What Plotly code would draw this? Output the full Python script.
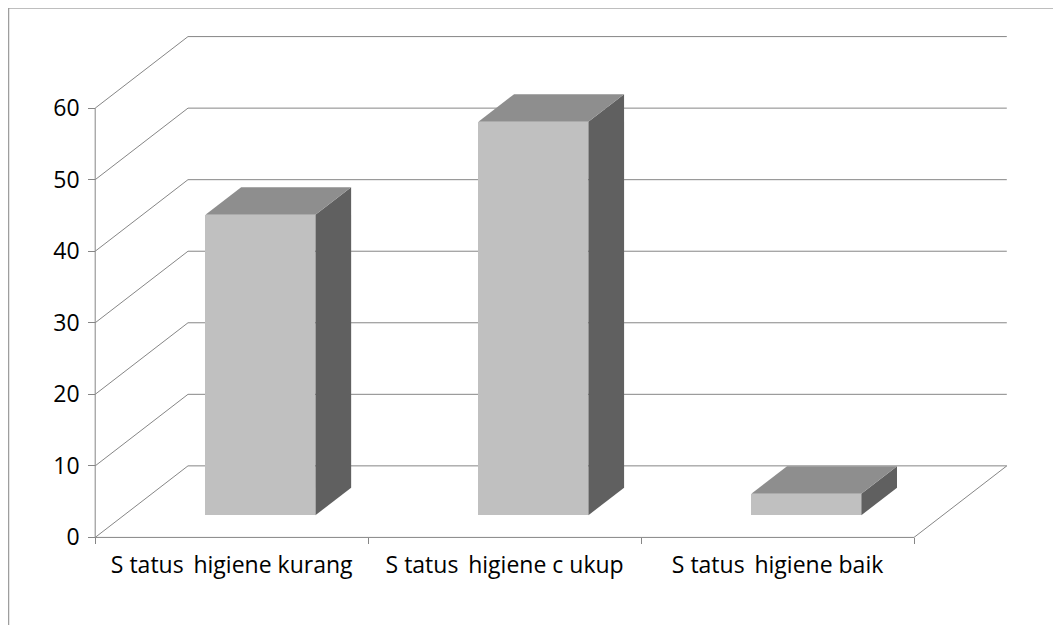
import plotly.graph_objects as go

# ---- data ----
categories = ["S tatus \u2009higiene kurang", "S tatus \u2009higiene c ukup", "S tatus \u2009higiene baik"]
values = [42, 55, 3]
y_ticks = [0, 10, 20, 30, 40, 50, 60]

# ---- 3D projection parameters (axis units) ----
OX = 0.34      # depth offset in x (category units)
OY = 10.0      # depth offset in y (value units)
D1 = 0.31      # bar front depth fraction
D2 = 0.695     # bar back depth fraction
BW = 0.403     # bar width (category units)

# pixel geometry (page body has an 8px margin)
OFF = 8
PXX = 273.0
PXY = 7.143
X0PX = 95.0 - OFF
Y0PX = 537.0 - OFF
W, H = 1061 - 2 * OFF, 633 - 2 * OFF
XR = [-0.03, 3 + OX + 0.03]
YR = [-0.5, 70.5]
l = X0PX + XR[0] * PXX
pw = (XR[1] - XR[0]) * PXX
r = W - l - pw
b = H - (Y0PX - YR[0] * PXY)
ph = (YR[1] - YR[0]) * PXY
t = H - b - ph

GRID = "#868686"
FRONT = "#C0C0C0"
TOP = "#8E8E8E"
SIDE = "#606060"
FONT = "Open Sans"

fig = go.Figure()

n = len(categories)
fx = [i + 0.5 + D1 * OX for i in range(n)]
fig.add_trace(go.Bar(
    x=fx, y=values, base=[D1 * OY] * n, width=[BW] * n,
    marker=dict(color=FRONT, line=dict(width=0)),
    hoverinfo="skip", showlegend=False,
))

dx = (D2 - D1) * OX
dy = (D2 - D1) * OY
for i, v in enumerate(values):
    x0 = fx[i] - BW / 2
    x1 = fx[i] + BW / 2
    yb = D1 * OY
    yt = yb + v
    fig.add_trace(go.Scatter(
        x=[x1, x1 + dx, x1 + dx, x1, x1], y=[yb, yb + dy, yt + dy, yt, yb],
        mode="lines", fill="toself", fillcolor=SIDE, line=dict(width=0, color=SIDE),
        hoverinfo="skip", showlegend=False,
    ))
    fig.add_trace(go.Scatter(
        x=[x0, x1, x1 + dx, x0 + dx, x0], y=[yt, yt, yt + dy, yt + dy, yt],
        mode="lines", fill="toself", fillcolor=TOP, line=dict(width=0, color=TOP),
        hoverinfo="skip", showlegend=False,
    ))

fig.add_trace(go.Scatter(x=[0, 3], y=[0, 0], xaxis="x2", mode="markers",
                         marker=dict(opacity=0), hoverinfo="skip", showlegend=False))

shapes = []
for v in y_ticks:
    shapes.append(dict(type="line", xref="x", yref="y", x0=OX, x1=3 + OX, y0=v + OY, y1=v + OY,
                       line=dict(color=GRID, width=1), layer="below"))
    shapes.append(dict(type="line", xref="x", yref="y", x0=0, x1=OX, y0=v, y1=v + OY,
                       line=dict(color=GRID, width=1), layer="below"))
shapes.append(dict(type="line", xref="x", yref="y", x0=0, x1=3, y0=0, y1=0,
                   line=dict(color=GRID, width=1), layer="below"))
shapes.append(dict(type="line", xref="x", yref="y", x0=3, x1=3 + OX, y0=0, y1=OY,
                   line=dict(color=GRID, width=1), layer="below"))
shapes.append(dict(type="line", xref="x", yref="y", x0=0, x1=0, y0=0, y1=max(y_ticks),
                   line=dict(color=GRID, width=1), layer="below"))

def px2x(p):
    return (p - OFF - l) / pw

def py2y(p):
    return (H - b - (p - OFF)) / ph

shapes.append(dict(type="rect", xref="paper", yref="paper",
                   x0=px2x(8.5), x1=px2x(1075), y0=py2y(8.5), y1=py2y(645),
                   line=dict(color="#868686", width=1), fillcolor="rgba(0,0,0,0)", layer="below"))

pos_x = (0 - XR[0]) / (XR[1] - XR[0])
pos_y = (0 - YR[0]) / (YR[1] - YR[0])

fig.update_layout(
    width=W, height=H,
    margin=dict(l=l, r=r, t=t, b=b, pad=0),
    paper_bgcolor="white", plot_bgcolor="white",
    font=dict(family=FONT, size=23, color="black"),
    shapes=shapes,
    bargap=0,
    xaxis=dict(range=XR, tickvals=[i + 0.5 for i in range(n)], ticktext=categories,
               ticks="", showgrid=False, zeroline=False, showline=False,
               anchor="free", position=pos_y, tickfont=dict(size=23, family=FONT),
               ticklabelstandoff=12, fixedrange=True),
    xaxis2=dict(range=XR, overlaying="x", tickvals=[0, 1, 2, 3], ticks="outside",
                ticklen=6, tickcolor=GRID, tickwidth=1, showticklabels=False,
                showgrid=False, zeroline=False, showline=False,
                anchor="free", position=pos_y, side="bottom", fixedrange=True),
    yaxis=dict(range=YR, tickvals=y_ticks, ticks="outside", ticklen=7, tickcolor=GRID,
               tickwidth=1, showgrid=False, zeroline=False, showline=False,
               anchor="free", position=pos_x, tickfont=dict(size=23, family=FONT),
               ticklabelstandoff=4, fixedrange=True),
)

fig.write_html("out.html")
